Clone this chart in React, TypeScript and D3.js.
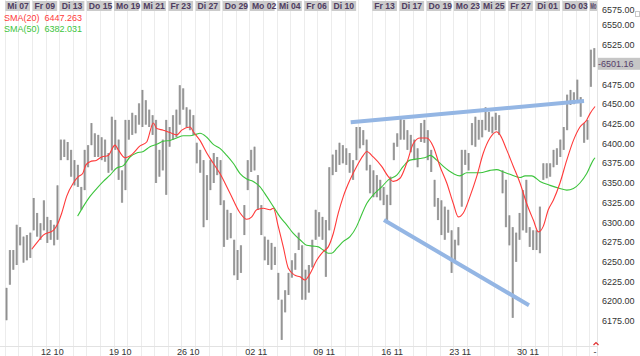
import React from "react";
import * as d3 from "d3";

// ---- data ----
const FIRST_DAY = -2; // Wed 07 Oct (day 0 = Fri 09 Oct)
const BARS_PER_DAY = 4;

const highs = [
  6217, 6265, 6265, 6297, 6294, 6282, 6284, 6287, 6331, 6312, 6299, 6328,
  6307, 6303, 6297, 6347, 6405, 6405, 6402, 6392, 6379, 6373, 6345, 6392,
  6398, 6426, 6413, 6411, 6408, 6405, 6388, 6434, 6430, 6405, 6366, 6430,
  6430, 6439, 6436, 6451, 6468, 6455, 6443, 6436, 6430, 6392, 6405, 6430,
  6421, 6436, 6443, 6474, 6470, 6446, 6443, 6436, 6401, 6392, 6379, 6360,
  6379, 6388, 6383, 6379, 6328, 6316, 6312, 6278, 6265, 6271, 6322, 6379,
  6392, 6396, 6360, 6322, 6282, 6278, 6274, 6269, 6236, 6202, 6214, 6236,
  6252, 6261, 6287, 6271, 6240, 6246, 6278, 6316, 6313, 6307, 6303, 6370,
  6386, 6392, 6401, 6398, 6394, 6388, 6379, 6421, 6421, 6417, 6405, 6373,
  6366, 6360, 6354, 6345, 6335, 6358, 6401, 6413, 6434, 6430, 6417, 6411,
  6405, 6394, 6426, 6430, 6417, 6392, 6354, 6331, 6328, 6320, 6316, 6290,
  6278, 6294, 6392, 6392, 6388, 6426, 6434, 6430, 6430, 6446, 6440, 6434,
  6439, 6436, 6366, 6354, 6309, 6294, 6287, 6312, 6341, 6354, 6294, 6290,
  6290, 6320, 6375, 6375, 6375, 6392, 6394, 6405, 6421, 6462, 6468, 6465,
  6481, 6459, 6426, 6430, 6519, 6521,
];
const lows = [
  6176, 6221, 6240, 6246, 6271, 6249, 6252, 6255, 6290, 6282, 6278, 6290,
  6274, 6278, 6271, 6278, 6379, 6383, 6379, 6358, 6347, 6345, 6316, 6341,
  6370, 6398, 6383, 6383, 6379, 6377, 6363, 6366, 6392, 6354, 6325, 6341,
  6405, 6411, 6413, 6424, 6421, 6424, 6421, 6411, 6350, 6358, 6366, 6335,
  6396, 6405, 6408, 6424, 6443, 6421, 6417, 6411, 6375, 6363, 6294, 6303,
  6341, 6350, 6360, 6322, 6269, 6278, 6280, 6233, 6227, 6236, 6284, 6341,
  6364, 6366, 6316, 6284, 6252, 6246, 6240, 6246, 6202, 6151, 6186, 6208,
  6230, 6240, 6265, 6202, 6202, 6211, 6243, 6278, 6282, 6278, 6231, 6290,
  6360, 6364, 6373, 6375, 6373, 6363, 6354, 6379, 6394, 6398, 6366, 6337,
  6332, 6332, 6328, 6322, 6299, 6322, 6379, 6396, 6405, 6405, 6392, 6389,
  6379, 6370, 6402, 6401, 6379, 6364, 6320, 6303, 6284, 6278, 6287, 6236,
  6252, 6271, 6320, 6373, 6366, 6398, 6396, 6405, 6408, 6417, 6415, 6413,
  6417, 6411, 6337, 6294, 6271, 6179, 6250, 6278, 6290, 6287, 6269, 6265,
  6265, 6261, 6354, 6356, 6358, 6370, 6373, 6383, 6392, 6417, 6449, 6450,
  6455, 6434, 6401, 6405, 6472, 6497,
];

const sma20Days = [
  -0.02, 0.35, 0.83, 1.57, 1.86, 2.19, 2.55, 3.04, 3.41, 3.73, 3.97, 4.27, 4.76,
  5.13, 5.61, 6.11, 6.35, 6.84, 7.34, 7.95, 8.44, 8.93, 9.18, 9.66, 10.15, 10.65,
  11.02, 11.63, 11.87, 12.36, 12.86, 13.34, 13.83, 14.57, 15.31, 15.8, 16.17,
  16.53, 17.02, 17.51, 17.76, 18.12, 18.49, 18.86, 19.35, 19.72, 20.09, 20.46,
  20.95, 21.43, 21.8, 22.17, 22.54, 22.91, 23.4, 23.89, 24.38, 24.63, 25.11,
  25.73, 26.22, 26.59, 27.08, 27.57, 28.06, 28.55, 29.04, 29.53, 30.02, 30.52,
  31.0, 31.37, 31.74, 32.23, 32.72, 33.21, 33.7, 34.19, 34.44, 34.93, 35.42,
  35.91, 36.4, 36.89, 37.26, 37.62, 37.99, 38.36, 38.85, 39.35, 39.84, 40.32,
  40.82, 41.06, 41.43,
];
const sma20Values = [
  6266, 6274, 6284, 6290, 6297, 6312, 6333, 6350, 6358, 6362, 6373, 6377, 6379,
  6383, 6385, 6398, 6392, 6382, 6386, 6397, 6402, 6426, 6419, 6417, 6414, 6411,
  6417, 6421, 6415, 6404, 6388, 6375, 6362, 6337, 6312, 6304, 6307, 6316, 6318,
  6316, 6318, 6295, 6269, 6242, 6233, 6231, 6227, 6235, 6252, 6263, 6269, 6286,
  6312, 6333, 6354, 6371, 6385, 6390, 6383, 6371, 6358, 6352, 6356, 6375, 6400,
  6407, 6407, 6396, 6371, 6350, 6324, 6307, 6312, 6333, 6358, 6388, 6407, 6415,
  6411, 6392, 6371, 6350, 6324, 6303, 6288, 6295, 6316, 6328, 6350, 6379, 6404,
  6421, 6430, 6438, 6447,
];

const sma50Days = [
  3.36, 3.77, 4.27, 4.76, 5.25, 5.74, 6.23, 6.72, 7.21, 7.7, 8.19, 8.68, 9.18,
  9.66, 10.15, 10.65, 11.13, 11.63, 12.12, 12.36, 12.86, 13.34, 13.83, 14.33,
  14.81, 15.31, 15.8, 16.28, 16.78, 17.27, 17.76, 18.25, 18.74, 19.23, 19.72,
  20.21, 20.7, 21.07, 21.43, 21.8, 22.05, 22.42, 22.91, 23.4, 23.89, 24.14,
  24.63, 25.11, 25.73, 26.22, 26.84, 27.32, 27.81, 28.55, 29.04, 29.29, 29.78,
  30.27, 31.0, 31.49, 31.99, 32.97, 33.7, 34.19, 34.68, 35.17, 35.91, 36.28,
  36.77, 37.38, 38.12, 38.85, 39.35, 39.84, 40.32, 40.82, 41.3, 41.43,
];
const sma50Values = [
  6308, 6320, 6333, 6343, 6352, 6360, 6369, 6372, 6383, 6388, 6390, 6396, 6399,
  6403, 6404, 6407, 6410, 6410, 6412, 6413, 6408, 6399, 6394, 6385, 6375, 6362,
  6355, 6352, 6345, 6333, 6320, 6307, 6297, 6286, 6278, 6271, 6270, 6269, 6265,
  6261, 6261, 6267, 6276, 6282, 6295, 6305, 6324, 6335, 6345, 6354, 6360, 6371,
  6379, 6381, 6383, 6385, 6379, 6371, 6362, 6359, 6363, 6363, 6366, 6367, 6364,
  6361, 6357, 6359, 6359, 6352, 6347, 6343, 6341, 6343, 6350, 6362, 6379, 6382,
];

const trendUpperDays = [23.45, 40.62];
const trendUpperValues = [6427, 6454];
const trendLowerDays = [25.9, 36.57];
const trendLowerValues = [6303, 6195];

const dayLabels = [
  "Mi 07", "Fr 09", "Di 13", "Do 15", "Mo 19", "Mi 21", "Fr 23", "Di 27",
  "Do 29", "Mo 02", "Mi 04", "Fr 06", "Di 10", "Fr 13", "Di 17", "Do 19",
  "Mo 23", "Mi 25", "Fr 27", "Di 01", "Do 03", "Mo",
];
const dayLabelDays = [
  -2, 0, 2, 4, 6, 8, 10, 12, 14, 16, 18, 20, 22, 25, 27, 29, 31, 33, 35, 37, 39, 41,
];
const dateLabels = ["12 10", "19 10", "26 10", "02 11", "09 11", "16 11", "23 11", "30 11"];
const dateLabelDays = [1, 6, 11, 16, 21, 26, 31, 36];
const yTicks = [
  6175, 6200, 6225, 6250, 6275, 6300, 6325, 6350, 6375, 6400, 6425, 6450,
  6475, 6500, 6525, 6550, 6575,
];
const lastPrice = 6501.16;
const sma20Last = "6447.263";
const sma50Last = "6382.031";

// ---- layout ----
const W = 640;
const H = 356;
const PLOT_RIGHT = 597;
const FONT = "'Liberation Sans', Arial, sans-serif";

export default function App() {
  const x = d3.scaleLinear().domain([0, 40]).range([32, 575.6]);
  const y = d3.scaleLinear().domain([6175, 6525]).range([321, 45]);
  const dayW = x(1) - x(0);

  const gridDays = d3.range(-2, 42);
  const line = d3
    .line<[number, number]>()
    .x((d) => x(d[0]))
    .y((d) => y(d[1]))
    .curve(d3.curveMonotoneX);

  const sma20 = line(sma20Days.map((d, i) => [d, sma20Values[i]]));
  const sma50 = line(sma50Days.map((d, i) => [d, sma50Values[i]]));
  const straight = d3
    .line<[number, number]>()
    .x((d) => x(d[0]))
    .y((d) => y(d[1]));

  return (
    <svg
      width={W}
      height={H}
      style={{ position: "absolute", left: 0, top: 0, background: "#fff" }}
      fontFamily={FONT}
    >
      <defs>
        <clipPath id="plot">
          <rect x={0} y={0} width={PLOT_RIGHT} height={346} />
        </clipPath>
        <clipPath id="header">
          <rect x={0} y={0} width={PLOT_RIGHT} height={12} />
        </clipPath>
      </defs>
      <rect x={0} y={0} width={W} height={H} fill="#fff" />
      {/* vertical day grid */}
      {gridDays.map((d) => (
        <line
          key={d}
          x1={Math.round(x(d)) + 0.5}
          x2={Math.round(x(d)) + 0.5}
          y1={0}
          y2={H}
          stroke="#ececec"
          strokeWidth={1}
        />
      ))}
      <line x1={0} x2={PLOT_RIGHT} y1={346.5} y2={346.5} stroke="#e2e2e2" />
      <line x1={PLOT_RIGHT + 0.5} x2={PLOT_RIGHT + 0.5} y1={0} y2={H} stroke="#e4e4e4" />

      <g clipPath="url(#plot)">
        {/* OHLC bars */}
        {highs.map((h, i) => {
          const cx = x(FIRST_DAY + (i + 0.5) / BARS_PER_DAY);
          const y1 = y(h);
          const y2 = y(lows[i]);
          return (
            <g key={i}>
              <rect x={cx - 1.1} y={y1} width={2.2} height={Math.max(1, y2 - y1)} fill="#a9a9a9" />
              <line x1={cx} x2={cx} y1={y1} y2={y2} stroke="#858585" strokeWidth={0.7} />
            </g>
          );
        })}
        {/* SMAs */}
        <path d={sma50 || ""} fill="none" stroke="#3cc43c" strokeWidth={1.1} />
        <path d={sma20 || ""} fill="none" stroke="#ff3a3a" strokeWidth={1.1} />
        {/* trend lines */}
        <path
          d={straight(trendUpperDays.map((d, i) => [d, trendUpperValues[i]])) || ""}
          stroke="#94b6e4"
          strokeWidth={4}
          fill="none"
        />
        <path
          d={straight(trendLowerDays.map((d, i) => [d, trendLowerValues[i]])) || ""}
          stroke="#94b6e4"
          strokeWidth={4}
          fill="none"
        />
      </g>

      {/* top day labels */}
      <g clipPath="url(#header)">
        {dayLabels.map((t, i) => {
          const bx = Math.max(1, x(dayLabelDays[i]) + 0.5);
          const full = 2 * dayW - 2.5;
          const bw = Math.min(full, PLOT_RIGHT - bx);
          const cramped = bw < full;
          return (
            <g key={t}>
              <rect x={bx} y={1} width={bw} height={10} fill="#cbcbcb" />
              <text
                x={bx + (cramped ? 0.5 : 2)}
                y={9.3}
                fontSize={8.6}
                fontWeight="bold"
                fill="#4e3c60"
                textLength={cramped ? bw - 1 : undefined}
                lengthAdjust={cramped ? "spacingAndGlyphs" : undefined}
              >
                {t}
              </text>
            </g>
          );
        })}
      </g>

      {/* legend */}
      <text x={4} y={20.5} fontSize={9} fill="#ff3a3a">SMA(20)</text>
      <text x={44.5} y={20.5} fontSize={9} fill="#ff3a3a">{sma20Last}</text>
      <text x={4} y={31.5} fontSize={9} fill="#3cc43c">SMA(50)</text>
      <text x={44.5} y={31.5} fontSize={9} fill="#3cc43c">{sma50Last}</text>

      {/* bottom date labels */}
      {dateLabels.map((t, i) => (
        <text
          key={t}
          x={x(dateLabelDays[i] + 0.5)}
          y={355}
          fontSize={9}
          textAnchor="middle"
          fill="#333"
        >
          {t}
        </text>
      ))}
      <text x={595} y={355} fontSize={9} textAnchor="middle" fill="#333">-</text>
      <path d="M593.5,345 L596,342.5 L598.5,345" fill="none" stroke="#e03030" strokeWidth={1.2} />

      {/* y axis labels */}
      {yTicks.map((v) => (
        <text
          key={v}
          x={602}
          y={Math.max(y(v), 10)}
          dy="0.35em"
          fontSize={9}
          fill="#333"
        >
          {v.toFixed(2)}
        </text>
      ))}
      {/* last price tag */}
      <rect x={598} y={y(lastPrice) - 6} width={42} height={12} fill="#c6c6c6" />
      <text x={598} y={y(lastPrice)} dy="0.35em" fontSize={9} fill="#55406a">
        -{lastPrice.toFixed(2)}
      </text>
      {/* small icon top right */}
      <rect x={635.5} y={11.5} width={4} height={5} fill="none" stroke="#c8c8c8" />
    </svg>
  );
}
